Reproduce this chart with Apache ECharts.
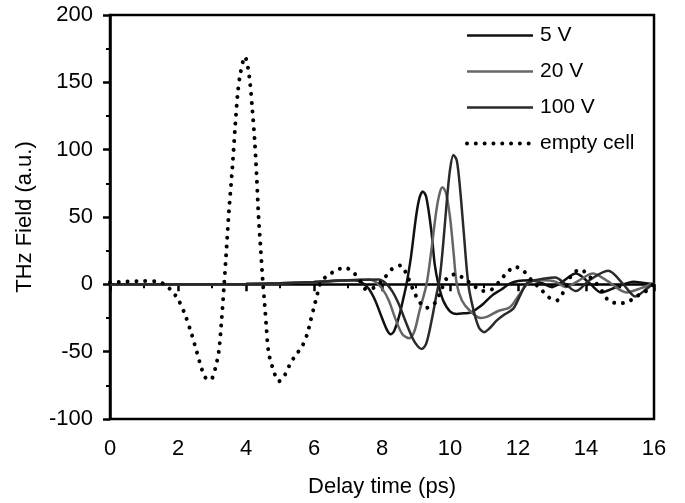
<!DOCTYPE html>
<html>
<head>
<meta charset="utf-8">
<script src="https://cdn.jsdelivr.net/npm/echarts@6/dist/echarts.min.js"></script>
<style>
  html, body { margin: 0; padding: 0; background: #fff; }
  #chart { width: 685px; height: 503px; }
</style>
</head>
<body>
<div id="chart"></div>
<script>
  // 读图得到的数据 [延迟时间 ps, THz 场 a.u.]
  var emptyCell = [[0,1.5],[0.5,2],[1,2.5],[1.4,2],[1.6,0],[1.8,-4.5],[2.0,-11],[2.2,-22],[2.4,-37],[2.55,-50],[2.7,-63],[2.8,-69],[2.9,-71],[3.0,-70],[3.1,-62],[3.2,-50],[3.28,-27],[3.36,1],[3.43,28],[3.5,55],[3.6,87],[3.68,117],[3.75,140],[3.83,156],[3.97,169],[4.05,162],[4.12,149],[4.19,129],[4.26,105],[4.32,77],[4.37,50],[4.43,27],[4.5,0],[4.55,-15],[4.6,-32],[4.66,-50],[4.76,-60],[4.85,-67],[4.97,-72],[5.15,-67],[5.3,-59],[5.45,-53],[5.65,-46],[5.8,-37],[5.9,-27],[6.0,-17],[6.1,-7],[6.19,1],[6.37,6],[6.63,10],[6.9,12.5],[7.15,9],[7.35,3],[7.55,-4],[7.8,-2],[8.05,4],[8.3,11.5],[8.55,14],[8.73,7],[8.84,0.5],[8.95,-6],[9.1,-13],[9.3,-17.5],[9.55,-14],[9.7,-7],[9.92,5],[10.18,7.5],[10.45,3.5],[10.7,-1],[10.96,-5],[11.22,-4],[11.45,2],[11.67,8.5],[11.91,13],[12.16,10],[12.4,3],[12.65,-3],[12.9,-9.5],[13.14,-12],[13.33,-6],[13.58,7],[13.84,11],[14.07,6.5],[14.31,0.5],[14.5,-6],[14.66,-12],[14.92,-14],[15.2,-13.5],[15.44,-9.5],[15.74,-5.5],[16,0.5]];

  var v5 = [[0,0],[2,0],[4,0.3],[5,0.8],[6,1.7],[7,3],[7.2,3],[7.4,1.5],[7.6,-3],[7.8,-12],[8.0,-25],[8.15,-34],[8.25,-37],[8.35,-35],[8.5,-24],[8.65,-8],[8.72,0],[8.85,20],[9.0,50],[9.1,64],[9.2,69],[9.3,65],[9.45,40],[9.55,15],[9.66,0],[9.8,-12],[10.0,-20],[10.2,-22],[10.4,-21.5],[10.6,-21],[10.8,-18],[11.0,-14],[11.25,-8],[11.5,-4],[11.76,0.5],[12.0,2.5],[12.35,3],[12.7,1],[13.0,-2],[13.3,2],[13.7,8],[14.1,1],[14.45,-6],[14.9,-2],[15.4,2],[15.7,1],[16,0]];

  var v20 = [[0,0],[2,0],[4,0.3],[5,0.8],[6,1.7],[7,3],[7.6,3.5],[7.8,2],[8.0,-3],[8.2,-12],[8.4,-26],[8.6,-37],[8.8,-40],[8.95,-35],[9.1,-20],[9.31,0],[9.45,25],[9.6,55],[9.7,68],[9.78,72],[9.88,68],[10.0,50],[10.1,25],[10.2,0],[10.35,-12],[10.6,-20],[10.9,-25],[11.1,-24],[11.4,-20],[11.76,-17],[12.0,-9],[12.2,-2],[12.35,2],[12.7,3],[13.1,2],[13.4,-2],[13.8,3],[14.2,8],[14.6,3],[15.2,-6],[15.6,-3],[16,1]];

  var v100 = [[0,0],[2,0],[4,0.3],[5,0.8],[6,1.7],[7,3],[7.9,3.5],[8.1,1],[8.3,-5],[8.5,-15],[8.7,-28],[8.9,-40],[9.05,-46],[9.17,-48],[9.3,-44],[9.45,-28],[9.6,-8],[9.7,5],[9.8,30],[9.9,60],[10.0,85],[10.1,96],[10.2,92],[10.3,70],[10.4,40],[10.54,0],[10.7,-20],[10.85,-32],[11.0,-35.5],[11.15,-33],[11.37,-27],[11.57,-23],[11.86,-18],[12.05,-9],[12.25,0.5],[12.5,3],[12.7,4],[13.1,5],[13.4,0],[13.7,-5],[14.1,3],[14.65,10],[15.1,0],[15.45,-9],[15.8,-3],[16,1]];

  var seriesNames = ['5 V', '20 V', '100 V', 'empty cell'];

  var myChart = echarts.init(document.getElementById('chart'));
  var font = '"Liberation Sans", Arial, sans-serif';
  var dotted = { color: '#000', width: 4, type: [0.01, 8.8], cap: 'round' };

  function lineSeries(name, data, color) {
    return {
      name: name,
      type: 'line',
      data: data,
      symbol: 'none',
      smooth: 0.3,
      lineStyle: { color: color, width: 2.5 },
      itemStyle: { color: color }
    };
  }

  var option = {
    animation: false,
    backgroundColor: '#fff',
    grid: {
      left: 110, right: 31, top: 15, bottom: 84,
      show: true, borderColor: '#000', borderWidth: 2.5
    },
    legend: {
      data: seriesNames.map(function (n) {
        return n === 'empty cell' ? { name: n, lineStyle: dotted } : { name: n, lineStyle: { width: 2.5 } };
      }),
      orient: 'vertical',
      left: 460,
      top: 20,
      itemWidth: 66,
      itemHeight: 20,
      itemGap: 15,
      itemStyle: { color: 'transparent', borderWidth: 0, opacity: 0 },
      textStyle: { fontFamily: font, fontSize: 21, color: '#000', padding: [0, 0, 0, 2] }
    },
    xAxis: {
      type: 'value',
      min: 0, max: 16, interval: 2,
      name: 'Delay time (ps)',
      nameLocation: 'middle',
      nameGap: 57,
      nameTextStyle: { fontFamily: font, fontSize: 22, color: '#000' },
      axisLine: { lineStyle: { color: '#000', width: 2.5 } },
      axisTick: { length: 7, lineStyle: { color: '#000', width: 2.5 } },
      minorTick: { show: true, splitNumber: 2, length: 4, lineStyle: { color: '#000', width: 2 } },
      axisLabel: { fontFamily: font, fontSize: 22, color: '#000', margin: 19 },
      splitLine: { show: false }
    },
    yAxis: {
      type: 'value',
      min: -100, max: 200, interval: 50,
      name: 'THz Field (a.u.)',
      nameLocation: 'middle',
      nameGap: 74,
      nameTextStyle: { fontFamily: font, fontSize: 22, color: '#000' },
      axisLine: { show: true, lineStyle: { color: '#000', width: 2.5 } },
      axisTick: { show: true, length: 7, lineStyle: { color: '#000', width: 2.5 } },
      minorTick: { show: true, splitNumber: 2, length: 4, lineStyle: { color: '#000', width: 2 } },
      axisLabel: { fontFamily: font, fontSize: 22, color: '#000', margin: 17 },
      splitLine: { show: false }
    },
    series: [
      lineSeries('5 V', v5, '#111'),
      lineSeries('20 V', v20, '#666'),
      lineSeries('100 V', v100, '#2a2a2a'),
      {
        name: 'empty cell',
        type: 'line',
        data: emptyCell,
        symbol: 'none',
        smooth: 0.3,
        lineStyle: dotted,
        itemStyle: { color: '#000' }
      }
    ]
  };
  myChart.setOption(option);
</script>
</body>
</html>
